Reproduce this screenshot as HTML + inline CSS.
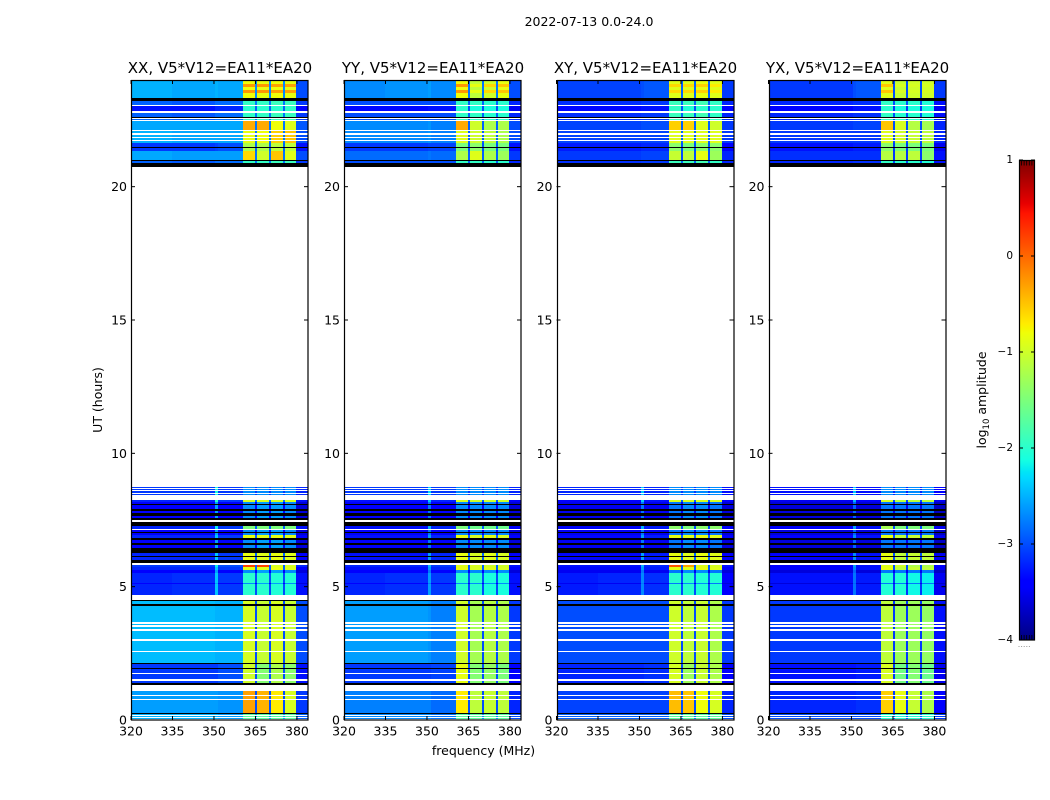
<!DOCTYPE html>
<html>
<head>
<meta charset="utf-8">
<title>2022-07-13 0.0-24.0</title>
<style>
html,body{margin:0;padding:0;background:#fff;}
svg{display:block;font-family:"DejaVu Sans","Liberation Sans",sans-serif;fill:#000;}
</style>
</head>
<body>
<svg id="fig" xmlns="http://www.w3.org/2000/svg" width="1050" height="800" viewBox="0 0 1050 800">
<rect width="1050" height="800" fill="#fff"/>
<text x="589" y="26" font-size="12.5" text-anchor="middle">2022-07-13 0.0-24.0</text>
<text x="483.5" y="755" font-size="12.5" text-anchor="middle">frequency (MHz)</text>
<text transform="translate(102,400) rotate(-90)" font-size="12.5" text-anchor="middle">UT (hours)</text>
<text transform="translate(986,400) rotate(-90)" font-size="12.5" text-anchor="middle">log<tspan font-size="8.5" dy="3">10</tspan><tspan dy="-3"> amplitude</tspan></text>
<g id="panels"></g>
<g id="cbar"></g>
</svg>
<script>
// ---- categories ----
const panelTitles = ["XX, V5*V12=EA11*EA20","YY, V5*V12=EA11*EA20","XY, V5*V12=EA11*EA20","YX, V5*V12=EA11*EA20"];
const xTicks = [320,335,350,365,380];
const yTicks = [0,5,10,15,20];
const cbarTicks = [1,0,-1,-2,-3,-4];
const cbarMinor = [0.9,0.8,0.7,0.6,0.5];
const xDomain = [320,384];
const yDomain = [0,24];
const cbarDomain = [-4,1];

// frequency intervals (MHz) and the profile column each one reads
const freqEdges = [320,335,350.5,351.5,360.5,365,365.7,369.8,370.5,374.9,375.6,379.8,384];
const freqColumn = [0,1,2,3,4,8,5,8,6,8,7,9];

// time band edges (UT hours, top to bottom) and profile of each band (-1 blank, -2 black)
const bandEdges = [24,23.85,23.7375,23.625,23.5125,23.325,23.2125,23.0625,23.025,22.8375,22.7625,22.6125,22.575,22.5375,22.5,22.4625,22.125,22.069,21.994,21.956,21.8625,21.825,21.75,21.694,21.619,21.4875,21.45,21.356,21.319,21,20.9625,20.869,20.749,
8.749,8.7,8.6625,8.625,8.569,8.5125,8.475,8.4375,8.25,8.175,8.1,8.0625,7.9125,7.8375,7.7625,7.65,7.575,7.5,7.436,7.286,7.1625,7.125,7.05,7.0125,6.9375,6.825,6.75,6.6375,6.5625,6.45,6.2625,6.15,6.1125,6,5.8875,5.831,5.7375,5.625,5.5125,5.1375,5.1,4.6875,4.5,4.4625,4.35,4.286,
3.664,3.611,3.5625,3.499,3.401,3.349,3.026,2.974,2.5875,2.539,2.126,2.089,1.95,1.9125,1.7625,1.725,1.526,1.4625,1.376,1.3125,1.099,0.9375,0.9,0.7875,0.75,0.281,0.225,0.1875,0.15,0.1125,0.075,0.0375,0];
const bandProfile = [1,0,1,0,1,-2,2,-1,3,-1,2,-2,-1,2,-1,4,-1,5,-1,5,-1,5,-1,5,6,-2,6,-2,7,-2,2,-2,-1,
8,-1,8,-1,8,-1,8,-1,9,10,-2,10,-2,10,-2,10,-2,-1,-2,11,-1,10,-2,10,12,-2,10,-2,10,-2,12,-2,12,-2,-1,13,12,10,14,10,14,-1,-2,15,-2,15,
-1,15,-1,15,-1,15,-1,15,-1,15,-2,16,-2,16,-1,16,-1,16,-2,-1,17,-1,17,-1,17,-2,18,-1,18,-1,18,-1];

// log10 amplitude per profile; columns: 320-335, 335-350, 350-351, 351-360.5, block1, block2, block3, block4, block gaps, 380-384
const xxProfiles = [
[-2.5,-2.55,-2.5,-2.55,-0.25,-0.25,-0.3,-0.3,-2.7,-3.0],
[-2.5,-2.55,-2.5,-2.55,-0.8,-0.85,-0.8,-0.85,-2.7,-3.0],
[-2.9,-2.95,-2.85,-2.85,-1.95,-1.95,-1.9,-1.9,-2.8,-3.1],
[-3.3,-3.3,-3.2,-3.2,-2.0,-2.0,-2.0,-1.95,-2.9,-3.4],
[-2.55,-2.55,-2.55,-2.55,-0.35,-0.35,-0.8,-0.9,-2.8,-2.95],
[-2.5,-2.55,-2.55,-2.55,-0.85,-0.8,-0.55,-0.5,-2.8,-3.0],
[-3.1,-3.1,-3.05,-3.0,-1.2,-1.2,-1.1,-1.1,-2.9,-3.3],
[-2.55,-2.6,-2.6,-2.6,-0.6,-1.0,-0.5,-0.9,-2.8,-3.0],
[-3.1,-3.1,-2.1,-3.1,-2.7,-2.7,-2.7,-2.7,-3.1,-3.2],
[-3.2,-3.2,-2.0,-3.1,-0.95,-0.95,-0.95,-0.95,-2.8,-3.3],
[-3.4,-3.4,-2.6,-3.4,-2.7,-2.6,-2.6,-2.7,-3.4,-3.6],
[-3.2,-3.2,-2.2,-3.1,-1.5,-1.5,-1.5,-1.5,-2.9,-3.3],
[-3.2,-3.2,-2.4,-3.1,-0.85,-0.9,-0.85,-0.9,-2.9,-3.4],
[-3.1,-3.1,-2.2,-3.0,0.2,0.2,-0.95,-0.95,-2.9,-3.2],
[-3.2,-3.15,-2.4,-3.1,-2.0,-2.0,-2.05,-2.05,-3.0,-3.3],
[-2.45,-2.45,-2.5,-2.5,-0.95,-1.05,-0.95,-1.05,-3.0,-3.0],
[-3.1,-3.1,-3.1,-3.0,-1.0,-1.45,-1.2,-1.4,-3.0,-3.3],
[-2.6,-2.6,-2.6,-2.65,-0.3,-0.4,-0.7,-0.95,-3.0,-3.1],
[-2.5,-2.5,-2.5,-2.6,-1.7,-1.7,-1.7,-1.7,-2.6,-2.9]];
const yyProfiles = [
[-2.7,-2.65,-2.6,-2.7,-0.25,-0.85,-0.6,-0.5,-2.8,-3.0],
[-2.7,-2.65,-2.6,-2.7,-0.8,-1.1,-1.0,-0.85,-2.8,-3.0],
[-3.0,-3.0,-3.0,-3.0,-1.95,-1.95,-2.0,-2.0,-2.9,-3.2],
[-3.35,-3.35,-3.3,-3.3,-2.0,-2.1,-2.1,-2.1,-3.0,-3.5],
[-2.7,-2.7,-2.65,-2.75,-0.35,-1.0,-1.2,-1.2,-2.9,-3.0],
[-2.7,-2.7,-2.65,-2.75,-0.9,-1.0,-1.1,-1.2,-2.9,-3.0],
[-3.1,-3.1,-3.05,-3.05,-1.5,-1.4,-1.5,-1.5,-3.0,-3.3],
[-2.85,-2.85,-2.8,-2.85,-1.2,-0.9,-1.2,-1.3,-2.9,-3.1],
[-3.1,-3.1,-2.3,-3.1,-2.7,-2.7,-2.7,-2.7,-3.1,-3.2],
[-3.3,-3.3,-2.4,-3.2,-0.95,-1.0,-1.0,-1.0,-2.9,-3.4],
[-3.45,-3.45,-2.8,-3.45,-2.7,-2.7,-2.7,-2.7,-3.4,-3.6],
[-3.3,-3.3,-2.5,-3.2,-1.5,-1.6,-1.6,-1.6,-2.9,-3.4],
[-3.3,-3.3,-2.6,-3.2,-0.85,-0.95,-0.9,-0.95,-2.9,-3.4],
[-3.2,-3.2,-2.5,-3.1,-0.9,-0.95,-1.0,-1.0,-2.9,-3.3],
[-3.2,-3.15,-2.6,-3.1,-2.0,-2.0,-2.1,-2.1,-3.0,-3.3],
[-2.6,-2.6,-2.65,-2.75,-1.0,-1.25,-1.15,-1.2,-3.0,-3.1],
[-3.1,-3.1,-3.1,-3.05,-0.85,-1.45,-1.35,-1.5,-3.0,-3.4],
[-2.75,-2.75,-2.75,-2.85,-0.7,-1.1,-1.05,-1.1,-3.0,-3.2],
[-2.7,-2.7,-2.7,-2.8,-1.7,-1.7,-1.7,-1.7,-2.7,-3.0]];
const xyProfiles = [
[-3.05,-3.05,-3.0,-2.95,-0.6,-0.6,-0.55,-0.7,-2.9,-3.1],
[-3.05,-3.05,-3.0,-2.95,-0.9,-0.9,-0.85,-0.9,-2.9,-3.1],
[-3.15,-3.15,-3.1,-3.1,-1.9,-1.9,-1.85,-1.95,-2.9,-3.2],
[-3.35,-3.35,-3.3,-3.3,-1.95,-2.05,-2.0,-2.0,-3.0,-3.4],
[-3.05,-3.05,-3.0,-3.0,-0.55,-0.55,-0.9,-1.0,-2.9,-3.1],
[-3.05,-3.05,-3.05,-3.05,-0.9,-0.9,-0.9,-0.9,-2.9,-3.1],
[-3.25,-3.25,-3.2,-3.2,-1.4,-1.5,-1.4,-1.4,-3.0,-3.4],
[-3.1,-3.1,-3.05,-3.05,-1.05,-1.1,-0.85,-1.3,-3.0,-3.2],
[-3.2,-3.2,-2.4,-3.2,-2.7,-2.7,-2.7,-2.7,-3.1,-3.3],
[-3.4,-3.4,-2.4,-3.3,-0.95,-0.95,-0.95,-0.95,-2.9,-3.4],
[-3.5,-3.5,-2.8,-3.5,-2.8,-2.7,-2.7,-2.8,-3.5,-3.6],
[-3.35,-3.35,-2.5,-3.25,-1.4,-1.5,-1.4,-1.4,-3.0,-3.4],
[-3.35,-3.35,-2.6,-3.25,-0.85,-0.9,-0.85,-0.9,-2.9,-3.4],
[-3.3,-3.3,-2.5,-3.2,0.1,-0.3,-0.9,-0.95,-2.9,-3.3],
[-3.25,-3.2,-2.7,-3.15,-2.0,-2.0,-2.05,-2.05,-3.0,-3.4],
[-3.0,-3.0,-3.0,-3.0,-1.0,-1.1,-1.05,-1.2,-3.0,-3.1],
[-3.2,-3.2,-3.2,-3.15,-0.95,-1.3,-1.05,-1.2,-3.0,-3.4],
[-3.05,-3.05,-3.05,-3.05,-0.45,-0.5,-0.8,-0.95,-3.0,-3.2],
[-2.9,-2.9,-2.9,-2.9,-1.7,-1.7,-1.7,-1.7,-2.8,-3.0]];
const yxProfiles = [
[-3.1,-3.1,-3.0,-2.95,-0.5,-0.95,-0.95,-0.95,-3.0,-3.1],
[-3.1,-3.1,-3.0,-2.95,-0.9,-1.05,-1.0,-1.0,-3.0,-3.1],
[-3.2,-3.2,-3.15,-3.15,-1.95,-2.0,-2.0,-2.05,-3.0,-3.3],
[-3.4,-3.4,-3.3,-3.3,-2.0,-2.1,-2.1,-2.1,-3.1,-3.5],
[-3.1,-3.1,-3.05,-3.05,-0.5,-0.95,-1.15,-1.25,-3.0,-3.2],
[-3.1,-3.1,-3.1,-3.1,-0.9,-1.0,-1.05,-1.1,-3.0,-3.2],
[-3.3,-3.3,-3.25,-3.25,-1.4,-1.5,-1.5,-1.5,-3.1,-3.5],
[-3.15,-3.15,-3.15,-3.15,-1.15,-1.15,-1.1,-1.4,-3.1,-3.3],
[-3.3,-3.3,-2.4,-3.3,-2.7,-2.7,-2.7,-2.7,-3.2,-3.4],
[-3.5,-3.5,-2.5,-3.4,-0.95,-1.1,-1.1,-1.1,-3.0,-3.5],
[-3.6,-3.6,-2.9,-3.6,-2.8,-2.8,-2.8,-2.8,-3.5,-3.7],
[-3.4,-3.4,-2.6,-3.3,-1.25,-1.5,-1.5,-1.5,-3.0,-3.5],
[-3.4,-3.4,-2.7,-3.3,-0.85,-1.1,-1.05,-1.1,-3.0,-3.5],
[-3.4,-3.4,-2.6,-3.3,-0.9,-1.0,-1.2,-1.2,-3.0,-3.4],
[-3.3,-3.3,-2.8,-3.25,-2.05,-2.05,-2.15,-2.2,-3.1,-3.5],
[-3.1,-3.1,-3.1,-3.1,-1.1,-1.3,-1.3,-1.35,-3.1,-3.3],
[-3.3,-3.3,-3.3,-3.25,-0.95,-1.55,-1.45,-1.6,-3.1,-3.5],
[-3.2,-3.2,-3.2,-3.15,-0.55,-0.85,-1.05,-1.2,-3.1,-3.4],
[-3.0,-3.0,-3.0,-3.0,-2.0,-2.0,-2.0,-2.0,-2.9,-3.1]];
const panelProfiles = [xxProfiles,yyProfiles,xyProfiles,yxProfiles];

const SVG = "http://www.w3.org/2000/svg";
function mk(tag, attrs, parent){
  const e = document.createElementNS(SVG, tag);
  for (const k in attrs) e.setAttribute(k, attrs[k]);
  parent.appendChild(e);
  return e;
}
const panelLeft = [131,344,556.5,768.5], plotW = 177, plotTop = 80, plotH = 640;
function xScale(p, f){ return panelLeft[p] + (f - xDomain[0]) / (xDomain[1] - xDomain[0]) * plotW; }
function yScale(u){ return plotTop + plotH - (u - yDomain[0]) / (yDomain[1] - yDomain[0]) * plotH; }
function cScale(v){ return 160 + (cbarDomain[1] - v) / (cbarDomain[1] - cbarDomain[0]) * 480; }

function seg(t, pts){
  for (let i = 1; i < pts.length; i++){
    if (t <= pts[i][0]){
      const a = pts[i-1], b = pts[i];
      return a[1] + (b[1]-a[1]) * (t-a[0]) / (b[0]-a[0]);
    }
  }
  return pts[pts.length-1][1];
}
function jet(t){
  t = Math.max(0, Math.min(1, t));
  const r = seg(t, [[0,0],[.35,0],[.66,1],[.89,1],[1,.5]]);
  const g = seg(t, [[0,0],[.125,0],[.375,1],[.64,1],[.91,0],[1,0]]);
  const b = seg(t, [[0,.5],[.11,1],[.34,1],[.65,0],[1,0]]);
  return "rgb(" + Math.round(r*255) + "," + Math.round(g*255) + "," + Math.round(b*255) + ")";
}
function colorOf(v){ return jet((v - cbarDomain[0]) / (cbarDomain[1] - cbarDomain[0])); }

const root = document.getElementById("panels");
panelTitles.forEach(function(title, p){
  const g = mk("g", {}, root);
  
  
  const cells = mk("g", {"shape-rendering":"crispEdges"}, g);
  
  
  const profiles = panelProfiles[p];
  bandProfile.forEach(function(code, r){
    if (code === -1) return;
    const y0 = Math.round(yScale(bandEdges[r])), y1 = Math.round(yScale(bandEdges[r+1]));
    if (code === -2){
      const k = mk("rect", {x:Math.round(xScale(p,xDomain[0])), y:y0, width:Math.round(plotW), height:y1-y0, fill:"#000"}, cells);
      
      
      return;
    }
    freqColumn.forEach(function(col, c){
      const x0 = Math.round(xScale(p, freqEdges[c])), x1 = Math.round(xScale(p, freqEdges[c+1]));
      const cell = mk("rect", {x:x0, y:y0, width:x1-x0, height:y1-y0, fill:colorOf(profiles[code][col])}, cells);
      
      
    });
  });
  const L = panelLeft[p], R = L + plotW;
  const frame = mk("rect", {x:Math.round(L)+0.5, y:80.5, width:Math.round(plotW)-0.5, height:639.5, fill:"none", stroke:"#000", "stroke-width":1.2}, g);
  
  
  xTicks.forEach(function(v){
    const x = xScale(p, v);
    const tb = mk("line", {x1:x, x2:x, y1:720, y2:716, stroke:"#000", "stroke-width":1}, g);
    
    
    const tt = mk("line", {x1:x, x2:x, y1:80, y2:84, stroke:"#000", "stroke-width":1}, g);
    
    
    const lb = mk("text", {x:x, y:735.5, "font-size":12.5, "text-anchor":"middle"}, g);
    
    
    lb.textContent = v;
  });
  yTicks.forEach(function(v){
    const y = yScale(v);
    const tl = mk("line", {x1:L, x2:L+4, y1:y, y2:y, stroke:"#000", "stroke-width":1}, g);
    
    
    const tr = mk("line", {x1:R-4, x2:R, y1:y, y2:y, stroke:"#000", "stroke-width":1}, g);
    
    
    const lb = mk("text", {x:L-4, y:y+4.5, "font-size":12.5, "text-anchor":"end"}, g);
    
    
    lb.textContent = v;
  });
  const t = mk("text", {x:L+plotW/2+0.5, y:73, "font-size":15, "text-anchor":"middle"}, g);
  
  
  t.textContent = title;
});

// colorbar
const cb = document.getElementById("cbar");
const defs = mk("defs", {}, cb);
const lg = mk("linearGradient", {id:"jetGrad", x1:0, x2:0, y1:1, y2:0}, defs);
const stopPositions = [0,.11,.125,.34,.35,.375,.64,.65,.66,.89,.91,1];
stopPositions.forEach(function(s){ mk("stop", {offset:s, "stop-color":jet(s)}, lg); });
const bar = mk("rect", {x:1019.5, y:160.5, width:15, height:479.5, fill:"url(#jetGrad)", stroke:"#000", "stroke-width":1.2}, cb);


cbarTicks.forEach(function(v){
  const y = cScale(v);
  const a = mk("line", {x1:1019, x2:1023, y1:y, y2:y, stroke:"#000"}, cb);
  
  
  const b = mk("line", {x1:1031, x2:1035, y1:y, y2:y, stroke:"#000"}, cb);
  
  
  const lb = mk("text", {x:1013, y:y+3, "font-size":10.5, "text-anchor":"end"}, cb);
  
  
  lb.textContent = v < 0 ? "\u2212" + Math.abs(v) : String(v);
});
cbarMinor.forEach(function(v, i){
  const x = 1021.5 + (1 - v) * 10 * 2.6 - 2.6;
  const top = mk("line", {x1:x, x2:x, y1:161, y2:165.5, stroke:"#000", "stroke-width":0.8}, cb);
  
  
  const bot = mk("line", {x1:x, x2:x, y1:635, y2:640, stroke:"#000", "stroke-width":0.8}, cb);
  
  
  const dot = mk("rect", {x:x-3, y:646, width:1, height:1, fill:"#999"}, cb);
  
  
});
</script>
</body>
</html>
